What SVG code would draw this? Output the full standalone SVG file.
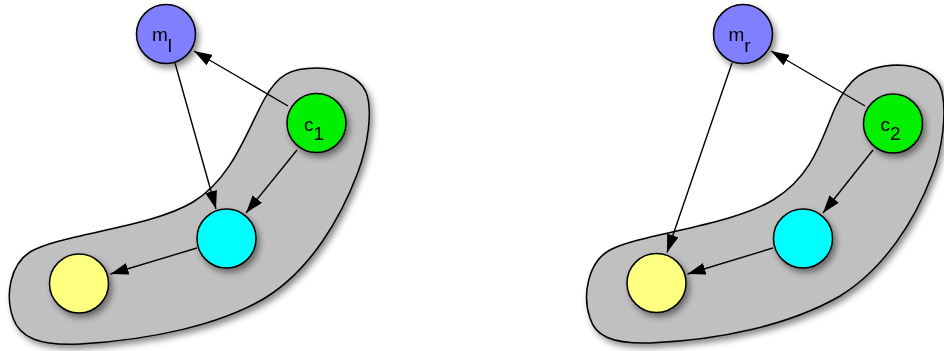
<svg xmlns="http://www.w3.org/2000/svg" width="944" height="351" viewBox="0 0 944 351">
<style>
.blob{fill:#c0c0c0;stroke:#000;stroke-width:1.5}
.node{stroke:#000;stroke-width:1.5}
.m{fill:#7f7fff}
.c{fill:#00f000}
.cy{fill:#00ffff}
.y{fill:#ffff80}
.edge{stroke:#000;stroke-width:1.4;fill:none;marker-end:url(#ah)}
.lbl{font-family:"Liberation Sans",Arial,Helvetica,sans-serif;font-size:19px;fill:#000}
</style>
<defs>
<filter id="sh" x="-20%" y="-20%" width="150%" height="150%">
<feDropShadow dx="3" dy="4" stdDeviation="3" flood-color="#000" flood-opacity="0.45"/>
</filter>
<marker id="ah" markerWidth="18" markerHeight="12" refX="18" refY="6" orient="auto" markerUnits="userSpaceOnUse">
<path d="M0,0 L18,6 L0,12 Z" fill="#000"/>
</marker>
</defs>

<g id="blob-left" filter="url(#sh)">
<path class="blob" d="M193,202 C233,178 248,128 265,98 C278,75 290,68 317,68 C340,68 360,78 366,92 C373,110 368,145 358,172 C340,220 310,270 265,298 C220,325 150,340 80,344 C40,346 20,338 13,318 C5,295 10,265 30,252 C60,234 150,228 193,202 Z"/>
</g>
<g id="blob-right" filter="url(#sh)">
<path class="blob" d="M773,200 C813,176 822,138 835,108 C848,80 862,66 897,65 C920,65 938,74 942,92 C947,115 942,150 932,175 C915,220 885,268 840,296 C790,325 720,340 650,343 C610,344 595,335 590,318 C582,295 588,262 610,250 C640,234 730,226 773,200 Z"/>
</g>

<g id="node-ml" filter="url(#sh)">
<circle class="node m" cx="166" cy="34" r="29.5"/>
<text class="lbl" x="152" y="41">m<tspan dy="10.5">l</tspan></text>
</g>
<g id="node-c1" filter="url(#sh)">
<circle class="node c" cx="316.5" cy="123" r="29.5"/>
<text class="lbl" x="304" y="131">c<tspan dy="9">1</tspan></text>
</g>
<g id="node-cyan-left" filter="url(#sh)">
<circle class="node cy" cx="226.5" cy="238.5" r="29.5"/>
</g>
<g id="node-yellow-left" filter="url(#sh)">
<circle class="node y" cx="79" cy="283.5" r="29.5"/>
</g>

<g id="node-mr" filter="url(#sh)">
<circle class="node m" cx="743" cy="34" r="29.5"/>
<text class="lbl" x="728.5" y="41">m<tspan dy="10.5">r</tspan></text>
</g>
<g id="node-c2" filter="url(#sh)">
<circle class="node c" cx="893" cy="123.5" r="29.5"/>
<text class="lbl" x="880.5" y="131">c<tspan dy="9">2</tspan></text>
</g>
<g id="node-cyan-right" filter="url(#sh)">
<circle class="node cy" cx="803" cy="238.5" r="29.5"/>
</g>
<g id="node-yellow-right" filter="url(#sh)">
<circle class="node y" cx="656.5" cy="283" r="29.5"/>
</g>

<g id="connectors">
<line class="edge" x1="288" y1="106" x2="194" y2="51"/>
<line class="edge" x1="175" y1="63" x2="216" y2="209"/>
<line class="edge" x1="297" y1="150" x2="246" y2="213"/>
<line class="edge" x1="197" y1="248" x2="110.5" y2="274"/>
<line class="edge" x1="865" y1="106" x2="771" y2="51"/>
<line class="edge" x1="732" y1="63" x2="667" y2="252.5"/>
<line class="edge" x1="873" y1="150" x2="823" y2="213"/>
<line class="edge" x1="773" y1="248" x2="687.5" y2="274"/>
</g>
</svg>
